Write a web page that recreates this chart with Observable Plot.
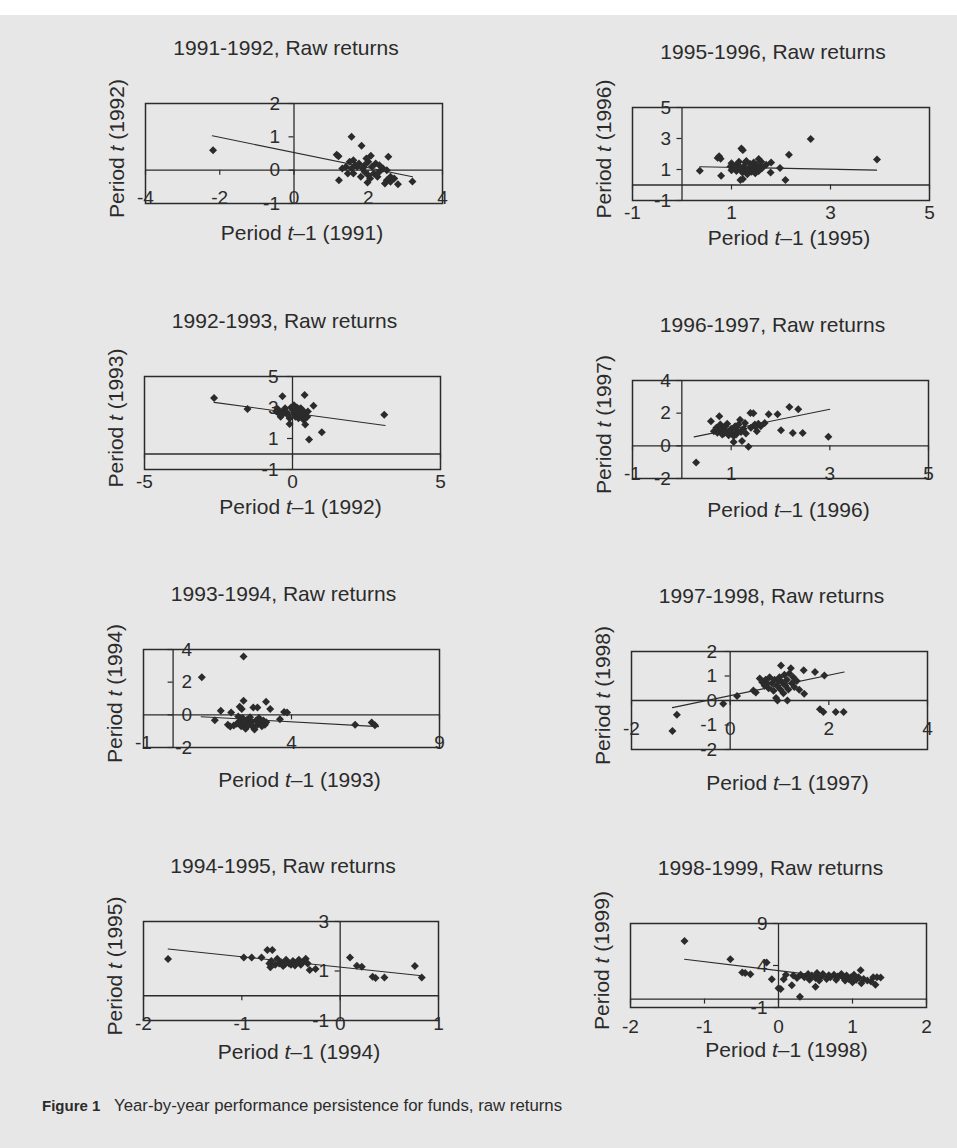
<!DOCTYPE html>
<html>
<head>
<meta charset="utf-8">
<script src="https://cdn.jsdelivr.net/npm/d3@7"></script>
<script src="https://cdn.jsdelivr.net/npm/@observablehq/plot@0.6"></script>
<style>
html, body { margin: 0; padding: 0; background: #ffffff; }
#page { position: relative; width: 957px; height: 1148px; background: #ffffff; overflow: hidden;
  font-family: "Liberation Sans", Arial, Helvetica, sans-serif; color: #2b2b2b; }
#scan { position: absolute; left: 0; top: 15px; width: 957px; height: 1133px; background: #e7e7e7; }
.panel { position: absolute; }
#caption { position: absolute; left: 42px; top: 1096px; font-size: 16.8px; white-space: pre; color: #2b2b2b; }
#caption b { font-size: 15px; }
</style>
</head>
<body>
<div id="page"><div id="scan"></div></div>
<script>
// ---------- DATA ----------
const panelTitles = [
  "1991-1992, Raw returns", "1995-1996, Raw returns",
  "1992-1993, Raw returns", "1996-1997, Raw returns",
  "1993-1994, Raw returns", "1997-1998, Raw returns",
  "1994-1995, Raw returns", "1998-1999, Raw returns"
];
const xLabels = [
  "Period t–1 (1991)", "Period t–1 (1995)",
  "Period t–1 (1992)", "Period t–1 (1996)",
  "Period t–1 (1993)", "Period t–1 (1997)",
  "Period t–1 (1994)", "Period t–1 (1998)"
];
const yLabels = [
  "Period t (1992)", "Period t (1996)",
  "Period t (1993)", "Period t (1997)",
  "Period t (1994)", "Period t (1998)",
  "Period t (1995)", "Period t (1999)"
];
const xDomains = [[-4, 4], [-1, 5], [-5, 5], [-1, 5], [-1, 9], [-2, 4], [-2, 1], [-2, 2]];
const yDomains = [[-1, 2], [-1, 5], [-1, 5], [-2, 4], [-2, 4], [-2, 2], [-1, 3], [-1, 9]];
const xTickValues = [[-4, -2, 0, 2, 4], [-1, 1, 3, 5], [-5, 0, 5], [-1, 1, 3, 5], [-1, 4, 9], [-2, 0, 2, 4], [-2, -1, 0, 1], [-2, -1, 0, 1, 2]];
const yTickValues = [[-1, 0, 1, 2], [-1, 1, 3, 5], [-1, 1, 3, 5], [-2, 0, 2, 4], [-2, 0, 2, 4], [-2, -1, 0, 1, 2], [-1, 1, 3], [-1, 4, 9]];

const pts1991_1992 = [[-2.18,0.6],[1.55,1.0],[1.82,0.73],[1.15,0.46],[1.2,0.42],[2.54,0.4],[2.07,0.43],[1.95,0.35],[1.6,0.3],[1.5,0.25],[1.75,0.2],[2.0,0.25],[2.2,0.2],[2.3,0.15],[1.4,0.1],[1.3,0.05],[1.55,0.05],[1.7,0.1],[1.85,0.05],[2.1,0.1],[2.4,0.05],[2.5,0.0],[1.9,-0.05],[1.6,-0.1],[1.45,-0.1],[2.0,-0.15],[2.15,-0.1],[2.3,-0.05],[1.8,-0.2],[2.05,-0.25],[1.21,-0.3],[1.98,-0.37],[2.5,-0.3],[2.6,-0.35],[2.45,-0.4],[2.6,-0.2],[2.7,-0.25],[2.8,-0.42],[3.19,-0.34],[1.65,0.15],[2.25,-0.2],[1.9,0.15]];
const pts1995_1996 = [[0.36,0.92],[0.72,1.75],[0.75,1.85],[0.78,1.7],[0.79,0.6],[1.2,2.35],[1.23,2.25],[2.16,1.95],[2.6,2.96],[3.94,1.65],[2.09,0.32],[1.18,0.32],[1.23,0.38],[1.98,1.09],[1.79,0.81],[1.8,1.45],[1.55,1.67],[1.6,1.5],[1.0,1.4],[1.05,1.1],[1.1,0.9],[1.12,1.3],[1.15,1.5],[1.2,1.0],[1.22,0.8],[1.25,1.2],[1.28,1.45],[1.3,0.95],[1.32,0.7],[1.35,1.1],[1.38,1.35],[1.4,0.85],[1.42,1.2],[1.45,1.0],[1.48,0.75],[1.5,1.3],[1.52,1.05],[1.55,0.9],[1.58,1.2],[1.62,1.1],[1.7,1.3],[1.0,0.95],[0.98,1.2],[1.08,1.25],[1.3,1.55],[1.18,1.15],[1.35,0.85],[1.45,1.45]];
const pts1992_1993 = [[-2.65,3.61],[-1.52,2.91],[-0.34,3.72],[0.41,3.8],[0.71,3.12],[3.1,2.54],[-0.1,1.94],[0.43,1.9],[0.99,1.41],[0.56,0.94],[-0.5,2.9],[-0.45,2.6],[-0.4,2.4],[-0.3,2.8],[-0.25,2.95],[-0.2,2.7],[-0.15,2.5],[-0.1,2.3],[-0.05,3.0],[0.0,2.85],[0.05,3.15],[0.05,2.6],[0.1,2.4],[0.12,2.75],[0.15,3.0],[0.18,2.55],[0.2,2.3],[0.22,2.9],[0.25,2.65],[0.3,2.45],[0.35,2.8],[0.38,2.2],[0.42,2.6],[0.5,2.4],[0.52,2.75],[-0.55,2.75],[0.28,2.95],[-0.35,2.55]];
const pts1996_1997 = [[0.29,-1.02],[0.59,1.5],[0.76,1.81],[1.05,0.24],[1.22,0.3],[1.35,-0.06],[1.39,2.01],[1.45,2.0],[1.76,1.93],[1.94,1.93],[2.18,2.38],[2.36,2.24],[2.01,0.96],[2.25,0.79],[2.45,0.79],[2.97,0.55],[0.65,0.9],[0.7,1.1],[0.72,0.8],[0.78,1.3],[0.8,1.0],[0.85,0.75],[0.88,1.2],[0.9,0.9],[0.95,0.65],[1.0,1.05],[1.02,0.8],[1.08,1.2],[1.1,0.7],[1.12,0.95],[1.15,1.3],[1.18,1.6],[1.2,0.85],[1.25,1.05],[1.3,0.75],[1.4,1.1],[1.48,1.3],[1.52,0.9],[1.55,1.35],[1.6,1.2],[1.68,1.4],[1.5,1.15],[0.92,1.35],[1.28,1.4],[0.82,0.7],[1.05,0.6]];
const pts1993_1994 = [[0.97,2.3],[2.38,3.57],[1.41,-0.33],[1.61,0.25],[1.96,0.14],[1.93,-0.72],[1.85,-0.6],[2.38,0.86],[2.32,0.35],[2.25,0.5],[2.71,0.45],[2.85,0.45],[3.14,0.8],[3.28,0.35],[3.61,-0.27],[3.75,0.18],[3.85,0.15],[6.15,-0.61],[6.71,-0.47],[6.82,-0.64],[2.2,-0.1],[2.25,-0.4],[2.3,-0.7],[2.35,-0.2],[2.4,-0.55],[2.45,-0.85],[2.5,-0.3],[2.55,-0.6],[2.6,-0.15],[2.65,-0.45],[2.7,-0.75],[2.75,-0.9],[2.8,-0.35],[2.85,-0.6],[2.9,-0.2],[2.95,-0.5],[3.0,-0.7],[3.05,-0.35],[3.1,-0.6],[3.15,-0.45],[2.15,-0.55],[2.05,-0.65]];
const pts1997_1998 = [[-1.17,-1.24],[-1.08,-0.58],[-0.14,-0.13],[0.14,0.18],[0.47,0.41],[0.52,0.33],[1.03,1.43],[1.23,1.32],[1.49,1.23],[1.72,1.16],[1.91,1.02],[1.4,0.44],[1.5,0.28],[0.96,0.0],[0.93,0.1],[1.16,0.0],[1.82,-0.36],[1.89,-0.47],[2.14,-0.47],[2.3,-0.47],[0.6,0.9],[0.65,0.75],[0.7,0.6],[0.72,0.85],[0.78,0.5],[0.8,0.95],[0.85,0.7],[0.88,0.4],[0.9,0.85],[0.95,0.6],[1.0,0.95],[1.02,0.45],[1.05,0.75],[1.08,0.3],[1.1,1.05],[1.12,0.6],[1.15,0.85],[1.18,0.45],[1.2,1.1],[1.25,0.7],[1.28,0.95],[1.3,0.55],[1.35,0.8],[0.75,0.7],[0.98,0.8]];
const pts1994_1995 = [[-1.75,1.48],[-0.98,1.55],[-0.9,1.55],[-0.8,1.55],[-0.74,1.85],[-0.69,1.85],[-0.71,1.15],[-0.31,1.04],[-0.25,1.08],[0.1,1.55],[0.17,1.21],[0.22,1.17],[0.33,0.77],[0.36,0.72],[0.45,0.74],[0.76,1.2],[0.83,0.74],[-0.7,1.4],[-0.66,1.25],[-0.64,1.5],[-0.6,1.35],[-0.58,1.2],[-0.55,1.45],[-0.52,1.3],[-0.5,1.25],[-0.48,1.4],[-0.45,1.3],[-0.42,1.45],[-0.4,1.25],[-0.38,1.35],[-0.35,1.5],[-0.33,1.3],[-0.62,1.3],[-0.56,1.28],[-0.46,1.22],[-0.72,1.3]];
const pts1998_1999 = [[-1.27,6.93],[-0.65,4.75],[-0.49,3.16],[-0.45,3.1],[-0.38,2.97],[-0.16,4.36],[-0.09,2.37],[0.0,1.3],[0.03,1.19],[0.07,2.37],[0.1,2.9],[0.18,1.66],[0.29,0.27],[0.5,1.46],[1.11,3.44],[1.38,2.57],[1.31,1.7],[0.2,2.8],[0.25,2.5],[0.3,2.9],[0.35,2.6],[0.4,3.0],[0.42,2.3],[0.45,2.8],[0.5,2.5],[0.52,3.1],[0.55,2.2],[0.58,2.7],[0.6,3.0],[0.65,2.4],[0.68,2.85],[0.7,2.6],[0.75,2.9],[0.78,2.3],[0.8,2.7],[0.85,3.0],[0.88,2.5],[0.9,2.2],[0.92,2.8],[0.95,2.4],[0.98,2.6],[1.0,2.0],[1.02,2.9],[1.05,2.3],[1.08,2.6],[1.12,1.9],[1.15,2.4],[1.2,2.2],[1.25,2.1],[1.28,2.6],[1.33,2.6]];

const trend1991_1992 = [[-2.2, 1.03], [3.19, -0.2]];
const trend1995_1996 = [[0.36, 1.18], [3.93, 0.96]];
const trend1992_1993 = [[-2.65, 3.33], [3.13, 1.84]];
const trend1996_1997 = [[0.25, 0.55], [3.0, 2.24]];
const trend1993_1994 = [[0.95, -0.12], [6.94, -0.72]];
const trend1997_1998 = [[-1.17, -0.29], [2.31, 1.16]];
const trend1994_1995 = [[-1.75, 1.89], [0.83, 0.81]];
const trend1998_1999 = [[-1.27, 4.75], [1.31, 1.98]];

const pointSets = [pts1991_1992, pts1995_1996, pts1992_1993, pts1996_1997, pts1993_1994, pts1997_1998, pts1994_1995, pts1998_1999];
const trendSets = [trend1991_1992, trend1995_1996, trend1992_1993, trend1996_1997, trend1993_1994, trend1997_1998, trend1994_1995, trend1998_1999];

// ---------- LAYOUT (pixel boxes of each plot frame, label offsets) ----------
const layout = [
  {l: 145, t: 103, r: 442, b: 203, xl: 30, ydx: -14},
  {l: 632, t: 107, r: 929, b: 200, xl: 38, ydx: -11},
  {l: 144, t: 376, r: 440, b: 469, xl: 38, ydx: -14},
  {l: 632, t: 380, r: 928, b: 478, xl: 32, ydx: -11},
  {l: 143, t: 649, r: 439, b: 747, xl: 33, ydx: 19},
  {l: 631, t: 651, r: 927, b: 749, xl: 34, ydx: -13},
  {l: 143, t: 921, r: 438, b: 1020, xl: 32, ydx: -11},
  {l: 630, t: 923, r: 926, b: 1007, xl: 43, ydx: -11}
];
const ink = "#2b2b2b";
const font = "'Liberation Sans', Arial, Helvetica, sans-serif";
const mL = 70, mR = 25, mT = 75, mB = 60;

const page = document.getElementById("page");
const svgNS = "http://www.w3.org/2000/svg";

function italicT(svg) {
  svg.querySelectorAll("text").forEach(el => {
    const s = el.textContent;
    if (s.startsWith("Period t")) {
      const rest = s.slice(8);
      while (el.firstChild) el.removeChild(el.firstChild);
      const a = document.createElementNS(svgNS, "tspan"); a.textContent = "Period ";
      const b = document.createElementNS(svgNS, "tspan"); b.textContent = "t"; b.setAttribute("font-style", "italic");
      const c = document.createElementNS(svgNS, "tspan"); c.textContent = rest;
      el.append(a, b, c);
    }
  });
}

panelTitles.forEach((title, i) => {
  const L = layout[i];
  const w = L.r - L.l, h = L.b - L.t;
  const pts = pointSets[i].map(([x, y]) => ({x, y}));
  const trend = trendSets[i].map(([x, y]) => ({x, y}));
  const chart = Plot.plot({
    width: w + mL + mR,
    height: h + mT + mB,
    marginLeft: mL, marginRight: mR, marginTop: mT, marginBottom: mB,
    x: {domain: xDomains[i], axis: null},
    y: {domain: yDomains[i], axis: null},
    style: {background: "transparent", fontFamily: font, color: ink, overflow: "visible"},
    marks: [
      Plot.frame({stroke: ink, strokeWidth: 1.5}),
      Plot.ruleX([0], {stroke: ink, strokeWidth: 1.3}),
      Plot.ruleY([0], {stroke: ink, strokeWidth: 1.3}),
      Plot.ruleY(yTickValues[i], {y: d => d, x1: () => 0, x2: () => 0, insetLeft: -5, insetRight: 0, stroke: ink, strokeWidth: 1.2}),
      Plot.ruleX(xTickValues[i], {x: d => d, y1: () => 0, y2: () => 0, insetTop: 0, insetBottom: -5, stroke: ink, strokeWidth: 1.2}),
      Plot.text(yTickValues[i], {x: () => 0, y: d => d, text: d => String(d), textAnchor: "end", dx: L.ydx, fontSize: 19, fill: ink}),
      Plot.text(xTickValues[i], {x: d => d, y: () => 0, text: d => String(d), dy: 28, fontSize: 19, fill: ink}),
      Plot.line(trend, {x: "x", y: "y", stroke: ink, strokeWidth: 1.1}),
      Plot.dot(pts, {x: "x", y: "y", symbol: "diamond2", r: 3.6, fill: ink, stroke: "none"}),
      Plot.text([title], {text: d => d, frameAnchor: "top", dy: -55, dx: -8, lineAnchor: "middle", fontSize: 21, fill: ink}),
      Plot.text([yLabels[i]], {text: d => d, frameAnchor: "left", rotate: -90, dx: -28, dy: -5, textAnchor: "middle", lineAnchor: "middle", fontSize: 21, fill: ink}),
      Plot.text([xLabels[i]], {text: d => d, frameAnchor: "bottom", dy: L.xl, dx: 8, lineAnchor: "middle", fontSize: 21, fill: ink})
    ]
  });
  italicT(chart);
  chart.classList.add("panel");
  chart.style.left = (L.l - mL) + "px";
  chart.style.top = (L.t - mT) + "px";
  page.appendChild(chart);
});

const cap = document.createElement("div");
cap.id = "caption";
cap.innerHTML = "<b>Figure 1</b>   Year-by-year performance persistence for funds, raw returns";
page.appendChild(cap);
</script>
</body>
</html>
